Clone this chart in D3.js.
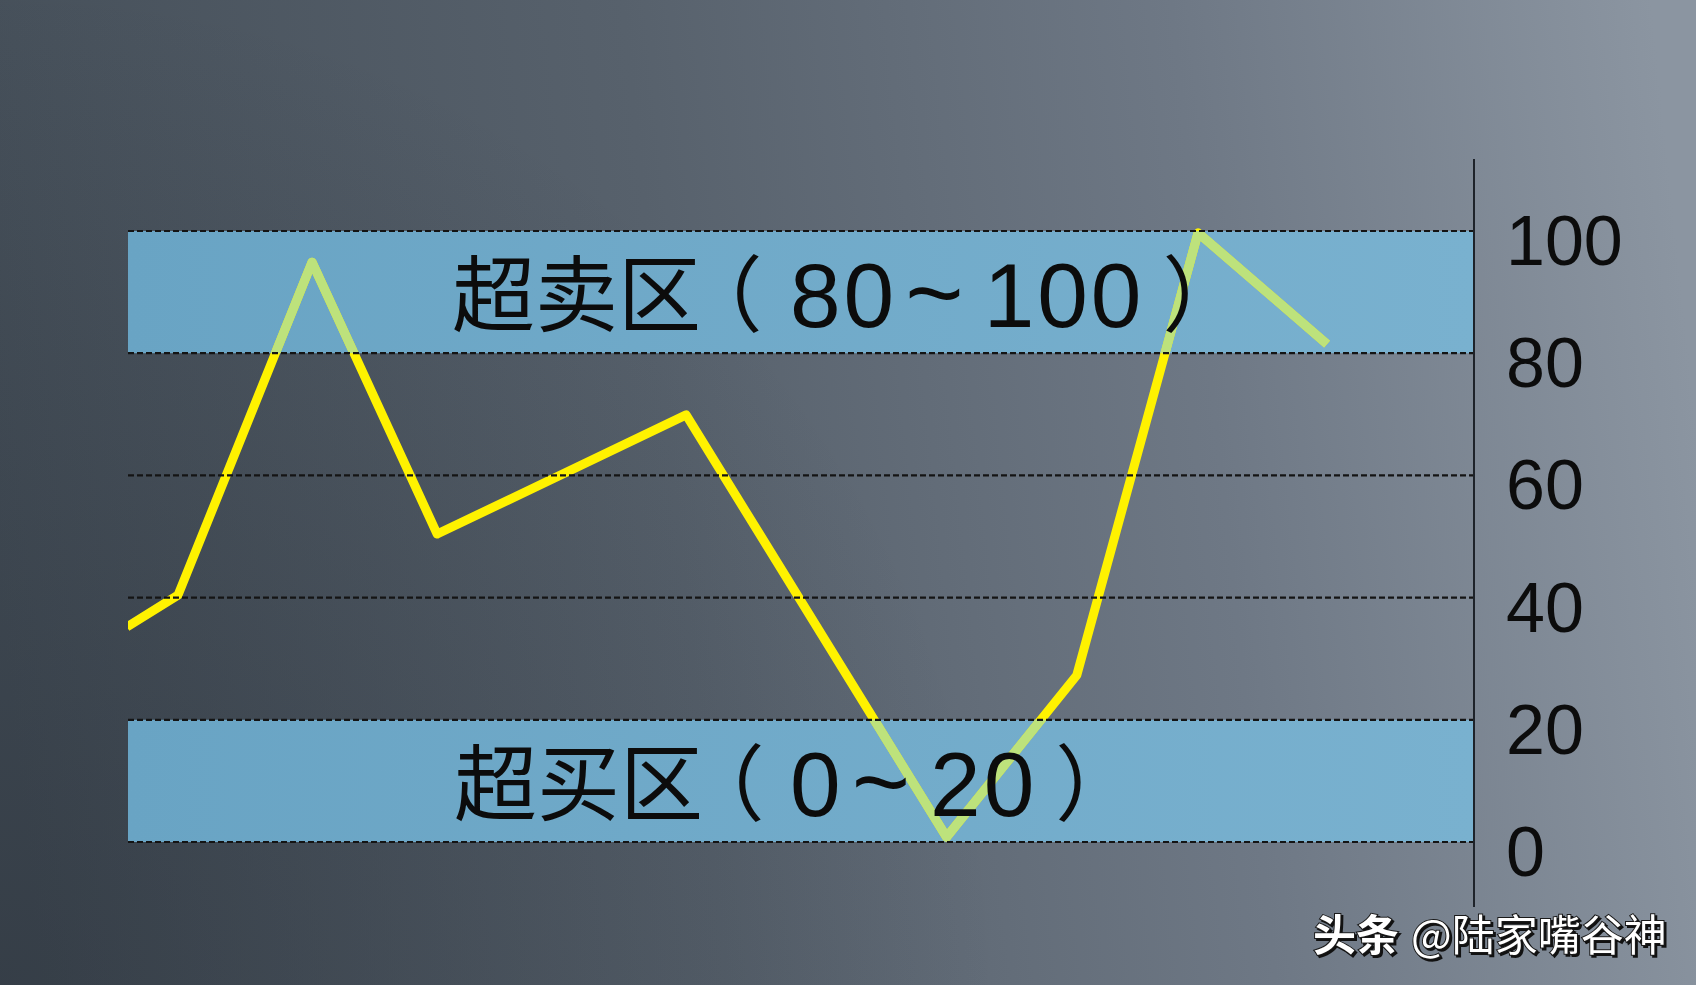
<!DOCTYPE html>
<html>
<head>
<meta charset="utf-8">
<script src="https://cdn.jsdelivr.net/npm/d3@7"></script>
<style>
  html, body { margin: 0; padding: 0; background: #555e69; }
  svg { display: block; }
  .halt { font-feature-settings: "halt" 1; }
</style>
</head>
<body>
<svg id="chart" width="1696" height="985"></svg>
<script>
// ---- data ----
const xIndex   = [-0.4, 0, 1.05, 2.03, 3.98, 6.02, 7.04, 7.99, 9];
const kValues  = [35.2, 40.4, 94.9, 50.4, 69.9, 0.8, 27.3, 99.7, 81.5];
const tickValues = [0, 20, 40, 60, 80, 100];
const tickLabels = ["0", "20", "40", "60", "80", "100"];
const zoneFrom  = [80, 0];
const zoneTo    = [100, 20];
const zoneNames = ["超卖区", "超买区"];
const zoneLo    = ["80", "0"];
const zoneHi    = ["100", "20"];
const watermarkBold = "头条";
const watermarkText = "@陆家嘴谷神";

// ---- layout ----
const W = 1696, H = 985;
const plotLeft = 128, plotRight = 1474;
const svg = d3.select("#chart");
const zones = zoneNames.map((n, i) => ({ name: n, from: zoneFrom[i], to: zoneTo[i], lo: zoneLo[i], hi: zoneHi[i] }));

const y = d3.scaleLinear().domain([0, 100]).range([842, 231]);
const x = d3.scaleLinear().domain([0, 9]).range([178, 1327]);

// background
const defs = svg.append("defs");
const bg = defs.append("linearGradient").attr("id", "bg")
  .attr("gradientUnits", "userSpaceOnUse")
  .attr("x1", 0).attr("y1", 600).attr("x2", 1696).attr("y2", 420);
[[0, "#454f59"], [0.4, "#57616c"], [0.72, "#6e7885"], [1, "#8b95a1"]]
  .forEach(([o, c]) => bg.append("stop").attr("offset", o).attr("stop-color", c));
svg.append("rect").attr("width", W).attr("height", H).attr("fill", "url(#bg)");
const shade = defs.append("radialGradient").attr("id", "shade")
  .attr("gradientUnits", "userSpaceOnUse")
  .attr("cx", 0).attr("cy", 985).attr("r", 1000);
shade.append("stop").attr("offset", 0).attr("stop-color", "#1a2028").attr("stop-opacity", 0.36);
shade.append("stop").attr("offset", 1).attr("stop-color", "#1a2028").attr("stop-opacity", 0);
svg.append("rect").attr("width", W).attr("height", H).attr("fill", "url(#shade)");

// clips
defs.append("clipPath").attr("id", "plotClip").append("rect")
  .attr("x", plotLeft).attr("y", 0).attr("width", plotRight - plotLeft).attr("height", H);
const zc = defs.append("clipPath").attr("id", "zoneClip");
zones.forEach(z => zc.append("rect")
  .attr("x", plotLeft).attr("width", plotRight - plotLeft)
  .attr("y", y(z.to)).attr("height", y(z.from) - y(z.to)));

// zone bands
const bandGrad = defs.append("linearGradient").attr("id", "band")
  .attr("x1", 0).attr("y1", 0).attr("x2", 1).attr("y2", 0);
bandGrad.append("stop").attr("offset", 0).attr("stop-color", "#69a4c4");
bandGrad.append("stop").attr("offset", 1).attr("stop-color", "#79b1cf");
svg.append("g").selectAll("rect").data(zones).join("rect")
  .attr("x", plotLeft).attr("width", plotRight - plotLeft)
  .attr("y", d => y(d.to)).attr("height", d => y(d.from) - y(d.to))
  .attr("fill", "url(#band)");

// line
const pts = xIndex.map((xi, i) => [xi, kValues[i]]);
const line = d3.line().x(d => x(d[0])).y(d => y(d[1]));
svg.append("g").attr("clip-path", "url(#plotClip)")
  .append("path").attr("d", line(pts))
  .attr("fill", "none").attr("stroke", "#fff200").attr("stroke-width", 9)
  .attr("stroke-linejoin", "round");
svg.append("g").attr("clip-path", "url(#zoneClip)")
  .append("path").attr("d", line(pts))
  .attr("fill", "none").attr("stroke", "#bde27c").attr("stroke-width", 9)
  .attr("stroke-linejoin", "round");

// dashed gridlines
svg.append("g").selectAll("line").data(tickValues).join("line")
  .attr("x1", plotLeft).attr("x2", plotRight)
  .attr("y1", d => y(d)).attr("y2", d => y(d))
  .attr("stroke", "#141414").attr("stroke-width", 2.2)
  .attr("stroke-dasharray", "6,3");

// zone labels: CJK name + full-width parens + Arial-like digits
const cjkFont = "'Noto Sans CJK SC', 'Noto Sans', sans-serif";
const numFont = "'Liberation Sans', Arial, sans-serif";
zones.forEach((z, i) => {
  const cy = (y(z.from) + y(z.to)) / 2;
  const g = svg.append("g").attr("class", "zone-label");
  let cursor = i === 0 ? 452 : 454;
  const cjk = (t, xPos) => g.append("text").attr("x", xPos).attr("y", cy - 3)
    .attr("dominant-baseline", "central")
    .attr("font-family", cjkFont).attr("font-size", 83).attr("fill", "#0c0c0c").text(t);
  const name = cjk(z.name, cursor);
  cursor += name.node().getComputedTextLength();
  // opening paren: half-width form so its box does not overlap the name
  const open = cjk("（", cursor).attr("class", "halt");
  const ow = open.node().getComputedTextLength();
  const glyphTarget = cursor + 34;              // where the paren glyph should start
  const glyphOffset = ow < 60 ? 14 : 56;        // glyph position inside its box
  let ox = glyphTarget - glyphOffset;
  if (ox < cursor) ox = cursor;
  open.attr("x", ox);
  cursor = Math.max(ox + ow, glyphTarget + 27);
  const addNum = (t, gapBefore, size) => {
    cursor += gapBefore;
    const el = g.append("text").attr("x", cursor).attr("y", cy + 35)
      .attr("font-family", numFont).attr("font-size", size).attr("letter-spacing", 3)
      .attr("fill", "#0c0c0c").text(t);
    cursor += el.node().getComputedTextLength();
  };
  addNum(z.lo, 790 - cursor > 0 ? 790 - cursor : 2, 91);
  addNum("~", 8, 100);
  addNum(z.hi, 17, 91);
  cursor += 18;
  cjk("）", cursor).attr("class", "halt");
});

// right axis
svg.append("line").attr("x1", plotRight).attr("x2", plotRight)
  .attr("y1", 159).attr("y2", 907)
  .attr("stroke", "#1e232a").attr("stroke-width", 2);

const axis = d3.axisRight(y).tickValues(tickValues)
  .tickFormat((d, i) => tickLabels[i]).tickSize(0).tickPadding(0);
const ag = svg.append("g").attr("transform", `translate(${plotRight + 32},11)`).call(axis);
ag.select(".domain").remove();
ag.selectAll("text")
  .attr("font-family", numFont)
  .attr("font-size", 70)
  .attr("fill", "#0c0c0c")
  .attr("text-anchor", "start");

// watermark
const wm = svg.append("text")
  .attr("x", 1313).attr("y", 932)
  .attr("dominant-baseline", "central")
  .attr("font-family", "'Noto Sans CJK SC', sans-serif")
  .attr("font-size", 43)
  .attr("fill", "#ffffff")
  .style("paint-order", "stroke")
  .attr("stroke", "#1a1a1a").attr("stroke-width", 2)
  .style("filter", "drop-shadow(2px 2px 0px #111)");
wm.append("tspan").attr("font-weight", 700).text(watermarkBold);
wm.append("tspan").attr("dx", 12).text(watermarkText);
</script>
</body>
</html>
